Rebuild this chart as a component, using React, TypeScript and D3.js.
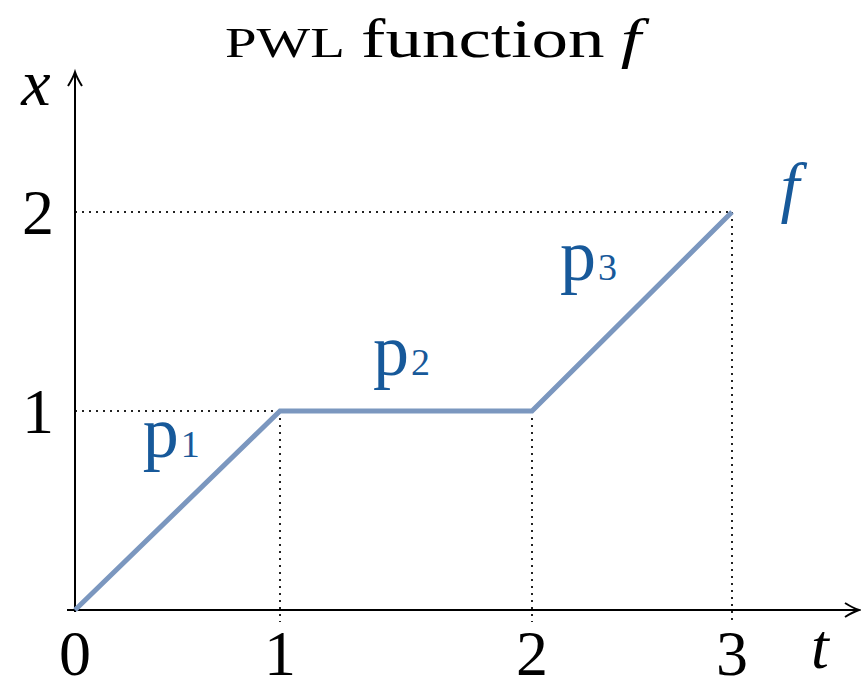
import React from "react";
import * as d3 from "d3";

const tValues = [0, 1, 2, 3];
const xValues = [0, 1, 1, 2];
const tTickLabels = ["0", "1", "2", "3"];
const xTickValues = [1, 2];
const xTickLabels = ["1", "2"];
const pieceLabels = ["p", "p", "p"];
const pieceSubs = ["1", "2", "3"];
const titleSmallCaps = "PWL";
const titleWord = "function";
const titleVar = "f";
const curveLabel = "f";
const tAxisLabel = "t";
const xAxisLabel = "x";

const W = 861;
const H = 683;
const BLUE = "#17599a";
const LINE = "#7b97bf";
const SERIF = "'Liberation Serif', 'Times New Roman', Times, serif";

export default function App() {
  const tScale = d3.scaleLinear().domain([0, 1, 2, 3]).range([75, 280, 532, 732]);
  const xScale = d3.scaleLinear().domain([0, 2]).range([610, 212]);
  const pts: [number, number][] = tValues.map((t, i) => [t, xValues[i]]);
  const line = d3
    .line<[number, number]>()
    .x((d) => tScale(d[0]))
    .y((d) => xScale(d[1]));

  const x0 = tScale(0);
  const y0 = xScale(0);
  const axisEndX = 859;
  const axisTopY = 72;

  // label offsets from each segment's midpoint, in data units
  const pieceOffsets: [number, number][] = [
    [-0.16, 0.27],
    [-0.123, 0.18],
    [-0.35, 0.158],
  ];

  return (
    <svg width={W} height={H} style={{ position: "absolute", left: 0, top: 0, background: "#fff" }}>
      {/* title */}
      <text y={57} fontFamily={SERIF} fill="#000" x={225} textLength={416} lengthAdjust="spacingAndGlyphs">
        <tspan fontSize={42}>{titleSmallCaps}</tspan>
        <tspan fontSize={54} dx={12}>{titleWord}</tspan>
        <tspan fontSize={54} dx={12} fontStyle="italic">{titleVar}</tspan>
      </text>

      {/* dotted guides */}
      {pts.slice(1).map((d, i) => (
        <g key={"g" + i}>
          {(i === 0 || i === 2) && (
            <line
              x1={x0}
              x2={tScale(d[0])}
              y1={xScale(d[1])}
              y2={xScale(d[1])}
              stroke="#222"
              strokeWidth={2}
              strokeDasharray="2 5"
            />
          )}
          <line
            x1={tScale(d[0])}
            x2={tScale(d[0])}
            y1={xScale(d[1])}
            y2={y0 + 12}
            stroke="#222"
            strokeWidth={2}
            strokeDasharray="2 5"
          />
        </g>
      ))}

      {/* axes */}
      <line x1={x0} x2={x0} y1={y0 + 2} y2={axisTopY + 1} stroke="#000" strokeWidth={2} />
      <path
        d={`M${x0 - 7},${axisTopY + 14} Q${x0 - 2},${axisTopY + 6} ${x0},${axisTopY} Q${x0 + 2},${axisTopY + 6} ${x0 + 7},${axisTopY + 14}`}
        fill="none"
        stroke="#000"
        strokeWidth={2}
      />
      <line x1={x0 - 8} x2={axisEndX - 1} y1={y0} y2={y0} stroke="#000" strokeWidth={2} />
      <path
        d={`M${axisEndX - 14},${y0 - 7} Q${axisEndX - 6},${y0 - 2} ${axisEndX},${y0} Q${axisEndX - 6},${y0 + 2} ${axisEndX - 14},${y0 + 7}`}
        fill="none"
        stroke="#000"
        strokeWidth={2}
      />

      {/* function */}
      <path d={line(pts) || ""} fill="none" stroke={LINE} strokeWidth={5} strokeLinejoin="miter" />

      {/* t ticks */}
      {tValues.map((t, i) => (
        <text
          key={"tt" + i}
          x={tScale(t)}
          y={675}
          textAnchor="middle"
          fontFamily={SERIF}
          fontSize={64}
          fill="#000"
        >
          {tTickLabels[i]}
        </text>
      ))}
      <text x={820} y={668} textAnchor="middle" fontFamily={SERIF} fontStyle="italic" fontSize={64} fill="#000">
        {tAxisLabel}
      </text>

      {/* x ticks */}
      {xTickValues.map((v, i) => (
        <text
          key={"xt" + i}
          x={38}
          y={xScale(v) + 22}
          textAnchor="middle"
          fontFamily={SERIF}
          fontSize={64}
          fill="#000"
        >
          {xTickLabels[i]}
        </text>
      ))}
      <text x={36} y={105} textAnchor="middle" fontFamily={SERIF} fontStyle="italic" fontSize={66} fill="#000">
        {xAxisLabel}
      </text>

      {/* piece labels */}
      {pieceLabels.map((p, i) => {
        const tm = (tValues[i] + tValues[i + 1]) / 2 + pieceOffsets[i][0];
        const xm = (xValues[i] + xValues[i + 1]) / 2 + pieceOffsets[i][1];
        return (
          <text key={"p" + i} x={tScale(tm) - 2} y={xScale(xm)} fontFamily={SERIF} fill={BLUE}>
            <tspan fontSize={72}>{p}</tspan>
            <tspan fontSize={38} dx={2}>{pieceSubs[i]}</tspan>
          </text>
        );
      })}
      <text
        x={tScale(3) + 58}
        y={xScale(2) - 2}
        textAnchor="middle"
        fontFamily={SERIF}
        fontStyle="italic"
        fontSize={68}
        fill={BLUE}
      >
        {curveLabel}
      </text>
    </svg>
  );
}
